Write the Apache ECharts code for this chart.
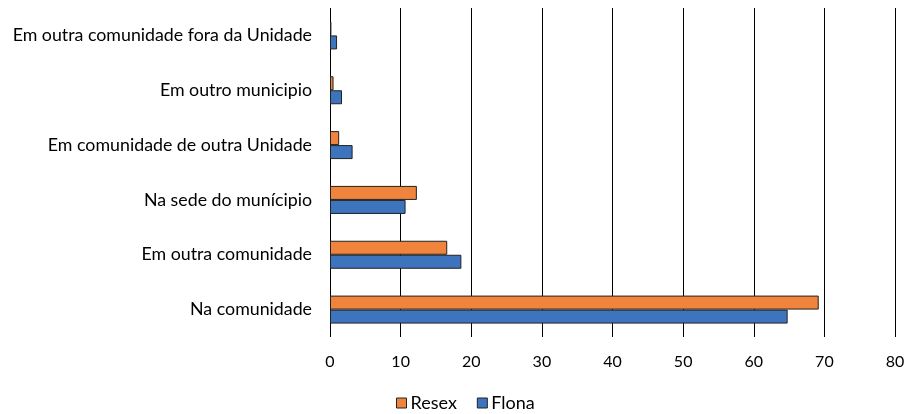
<!DOCTYPE html>
<html>
<head>
<meta charset="utf-8">
<script src="https://cdn.jsdelivr.net/npm/echarts@6/dist/echarts.min.js"></script>
<style>
html,body{margin:0;padding:0;background:#fff;}
#chart{width:911px;height:414px;}
</style>
</head>
<body>
<div id="chart"></div>
<script>
// Categories listed bottom to top
const categories = [
  'Na comunidade',
  'Em outra comunidade',
  'Na sede do munícipio',
  'Em comunidade de outra Unidade',
  'Em outro municipio',
  'Em outra comunidade fora da Unidade'
];
const resexValues = [69.2, 16.6, 12.3, 1.3, 0.5, 0.2];
const flonaValues = [64.8, 18.6, 10.7, 3.2, 1.7, 1.0];
const xTicks = [0, 10, 20, 30, 40, 50, 60, 70, 80];

const FONT = 'Lato';
const chart = echarts.init(document.getElementById('chart'));
chart.setOption({
  animation: false,
  textStyle: { fontFamily: FONT },
  grid: { left: 330, right: 16, top: 8, bottom: 77 },
  legend: {
    data: ['Resex', 'Flona'],
    bottom: -3,
    left: 391,
    icon: 'rect',
    itemWidth: 10,
    itemHeight: 10,
    itemGap: 20,
    itemStyle: { borderColor: '#222', borderWidth: 1 },
    textStyle: { fontSize: 18, color: '#000', fontFamily: FONT, padding: [0, 0, 0, -1] }
  },
  xAxis: {
    type: 'value',
    min: xTicks[0],
    max: xTicks[xTicks.length - 1],
    interval: 10,
    axisLine: { show: false },
    axisTick: { show: false },
    axisLabel: { fontSize: 16, color: '#000', margin: 17 },
    splitLine: { show: true, lineStyle: { color: '#000', width: 1 } }
  },
  yAxis: {
    type: 'category',
    data: categories,
    axisLine: { show: false },
    axisTick: { show: false },
    axisLabel: { fontSize: 17.8, color: '#000', margin: 18 }
  },
  series: [
    {
      name: 'Resex',
      type: 'bar',
      data: resexValues,
      barWidth: 14,
      barGap: '0%',
      itemStyle: { color: '#F0843D', borderColor: '#222', borderWidth: 1 }
    },
    {
      name: 'Flona',
      type: 'bar',
      data: flonaValues,
      barWidth: 14,
      barGap: '0%',
      itemStyle: { color: '#3E73BD', borderColor: '#222', borderWidth: 1 }
    }
  ]
});
</script>
</body>
</html>
